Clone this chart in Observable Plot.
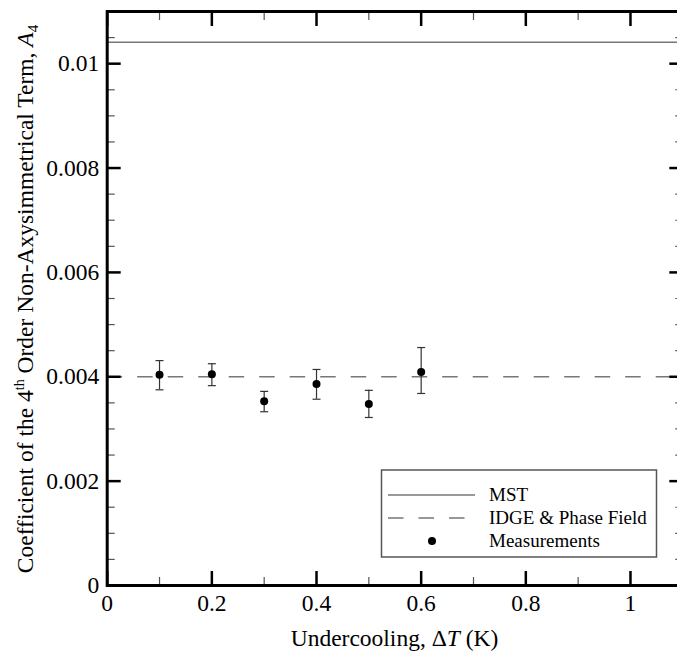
<!DOCTYPE html>
<html><head><meta charset="utf-8">
<script src="https://cdn.jsdelivr.net/npm/d3@7"></script>
<script src="https://cdn.jsdelivr.net/npm/@observablehq/plot@0.6"></script>
<style>
html,body{margin:0;padding:0;background:#fff;overflow:hidden;}
svg text{font-family:"Liberation Serif","Times New Roman",serif;}
</style></head><body><div id="chart"></div>
<script>
// ---- data ----
const undercooling = [0.1, 0.2, 0.3, 0.4, 0.5, 0.6];
const a4Measured   = [0.00404, 0.00405, 0.00353, 0.00386, 0.00348, 0.00409];
const a4Low        = [0.00375, 0.00383, 0.00333, 0.00357, 0.00322, 0.00368];
const a4High       = [0.00431, 0.00425, 0.00372, 0.00414, 0.00374, 0.00456];
const mstValue  = 0.01041;
const idgeValue = 0.004;
const legendLabels = ["MST", "IDGE & Phase Field", "Measurements"];
const xMajorTicks = [0, 0.2, 0.4, 0.6, 0.8, 1];
const xMinorTicks = [0.1, 0.3, 0.5, 0.7, 0.9, 1.1];
const yMajorTicks = [0, 0.002, 0.004, 0.006, 0.008, 0.01];
const yMinorTicks = [0.0005, 0.001, 0.0015, 0.0025, 0.003, 0.0035, 0.0045, 0.005, 0.0055,
                     0.0065, 0.007, 0.0075, 0.0085, 0.009, 0.0095, 0.0105];

const data = undercooling.map((x, i) => ({x, a4: a4Measured[i], lo: a4Low[i], hi: a4High[i]}));

const font = "Liberation Serif";
const capSymbol = {draw(ctx) { ctx.moveTo(-4, 0); ctx.lineTo(4, 0); }};
const fmt = d => String(d);

const majorTick = {tickSize: -14, strokeWidth: 2.5, stroke: "black", fill: "none", label: null};
const minorTick = {tickSize: -8, strokeWidth: 1.2, stroke: "#555", fill: "none", label: null};
const labelOpts = {tickSize: 0, tickFormat: fmt, label: null, fontSize: 23.5, fontFamily: font, fill: "black"};

const plot = Plot.plot({
  width: 677, height: 659,
  marginLeft: 106.7, marginRight: -5.3, marginTop: 11, marginBottom: 74,
  style: {color: "black", background: "white"},
  x: {domain: [0, 1.1]},
  y: {domain: [0, 0.011]},
  marks: [
    Plot.ruleY([mstValue], {stroke: "#777", strokeWidth: 1.5}),
    Plot.ruleY([idgeValue], {stroke: "#777", strokeWidth: 1.5, strokeDasharray: "15.5,15"}),
    Plot.ruleX(data, {x: "x", y1: "lo", y2: "hi", stroke: "#333", strokeWidth: 1.2}),
    Plot.dot(data, {x: "x", y: "lo", symbol: capSymbol, fill: "none", stroke: "#333", strokeWidth: 1.2}),
    Plot.dot(data, {x: "x", y: "hi", symbol: capSymbol, fill: "none", stroke: "#333", strokeWidth: 1.2}),
    Plot.dot(data, {x: "x", y: "a4", r: 4, fill: "black", stroke: "none"}),
    // tick labels
    Plot.axisX(xMajorTicks, {anchor: "bottom", tickPadding: 9, ...labelOpts}),
    Plot.axisY(yMajorTicks, {anchor: "left", tickPadding: 8, ...labelOpts}),
    // inward ticks on all sides
    Plot.axisX(xMajorTicks, {anchor: "bottom", ...majorTick}),
    Plot.axisX(xMinorTicks, {anchor: "bottom", ...minorTick}),
    Plot.axisX(xMajorTicks, {anchor: "top", ...majorTick}),
    Plot.axisX(xMinorTicks, {anchor: "top", ...minorTick}),
    Plot.axisY(yMajorTicks, {anchor: "left", ...majorTick}),
    Plot.axisY(yMinorTicks, {anchor: "left", ...minorTick}),
    Plot.axisY(yMajorTicks, {anchor: "right", ...majorTick}),
    Plot.axisY(yMinorTicks, {anchor: "right", ...minorTick}),
    Plot.frame({stroke: "black", strokeWidth: 3})
  ]
});
document.getElementById("chart").appendChild(plot);

const svg = d3.select(plot).attr("font-family", font).attr("font-size", 23.5);
const xr = plot.scale("x").range, yr = plot.scale("y").range;

// x title
const xt = svg.append("text").attr("x", (xr[0] + xr[1]) / 2).attr("y", 646)
  .attr("text-anchor", "middle").attr("font-size", 23.5).attr("fill", "black");
xt.append("tspan").text("Undercooling, \u0394");
xt.append("tspan").attr("font-style", "italic").text("T");
xt.append("tspan").text(" (K)");

// y title
const yt = svg.append("text").attr("transform", `translate(33,${(yr[0] + yr[1]) / 2 + 1}) rotate(-90)`)
  .attr("text-anchor", "middle").attr("font-size", 23.5).attr("fill", "black");
yt.append("tspan").text("Coefficient of the 4");
yt.append("tspan").attr("dy", -9).attr("font-size", 14).text("th");
yt.append("tspan").attr("dy", 9).text(" Order Non-Axysimmetrical Term, ");
yt.append("tspan").attr("font-style", "italic").text("A");
yt.append("tspan").attr("dy", 5).attr("font-size", 15).text("4");

// legend
const lg = svg.append("g").attr("font-size", 19).attr("fill", "black").attr("text-anchor", "start");
lg.append("rect").attr("x", 381.5).attr("y", 470).attr("width", 275).attr("height", 87)
  .attr("fill", "white").attr("stroke", "#555").attr("stroke-width", 1.5);
const rows = [495, 518, 541];
lg.append("line").attr("x1", 388).attr("x2", 475).attr("y1", rows[0]).attr("y2", rows[0])
  .attr("stroke", "#777").attr("stroke-width", 1.5);
lg.append("line").attr("x1", 388).attr("x2", 475).attr("y1", rows[1]).attr("y2", rows[1])
  .attr("stroke", "#777").attr("stroke-width", 1.5).attr("stroke-dasharray", "15.5,15");
lg.append("circle").attr("cx", 432).attr("cy", rows[2]).attr("r", 4).attr("fill", "black");
legendLabels.forEach((t, i) => {
  lg.append("text").attr("x", 489).attr("y", rows[i] + 6).text(t);
});

// make every text explicitly serif and force layout
svg.selectAll("text").attr("font-family", font).each(function() { this.getBBox(); getComputedStyle(this).fontSize; });
</script></body></html>
